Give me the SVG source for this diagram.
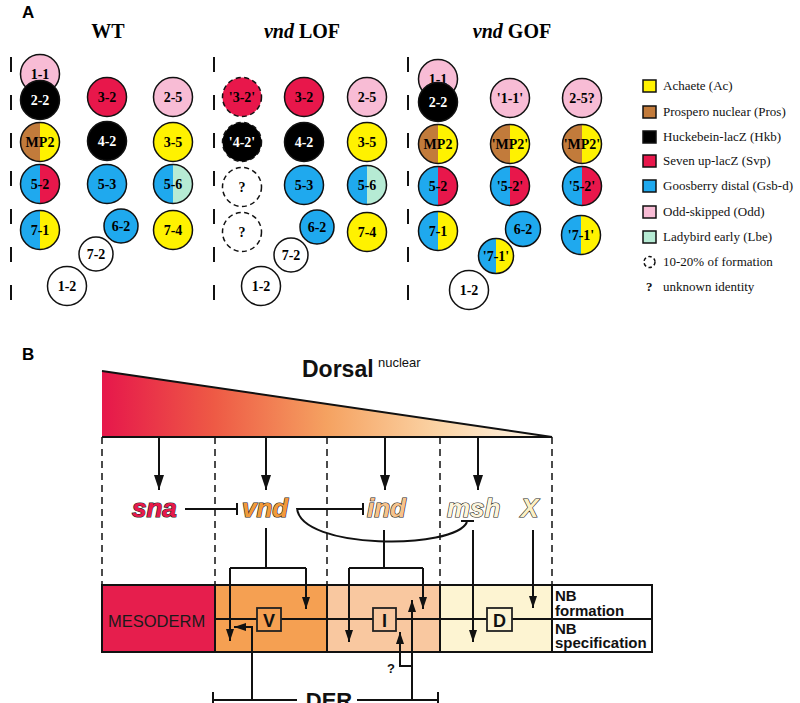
<svg xmlns="http://www.w3.org/2000/svg" width="800" height="703" viewBox="0 0 800 703">
<defs>
<linearGradient id="dors" x1="102" y1="0" x2="552" y2="0" gradientUnits="userSpaceOnUse">
<stop offset="0" stop-color="#e6174b"/>
<stop offset="0.25" stop-color="#ee5a45"/>
<stop offset="0.5" stop-color="#f5a261"/>
<stop offset="0.75" stop-color="#fbd4a6"/>
<stop offset="1" stop-color="#fff9ee"/>
</linearGradient>
<marker id="ah" markerUnits="userSpaceOnUse" markerWidth="15" markerHeight="10" refX="15" refY="5" orient="auto"><path d="M0,0 L15,5 L0,10 Z" fill="#111"/></marker>
<marker id="as" markerUnits="userSpaceOnUse" markerWidth="12" markerHeight="8" refX="12" refY="4" orient="auto"><path d="M0,0 L12,4 L0,8 Z" fill="#111"/></marker>
<style>
.nl{font-family:"Liberation Serif","Times New Roman",serif;font-weight:bold;font-size:14px;text-anchor:middle;fill:#000}
.wt{fill:#fff}
.o{stroke:#111;stroke-width:1.5}
.ol{fill:none;stroke:#111;stroke-width:1.5}
.d{stroke-dasharray:5 3.5}
.Y{fill:#fff200}.Br{fill:#c27b3b}.K{fill:#000}.R{fill:#e8174b}.Bl{fill:#1fa9ee}.P{fill:#f8bcd5}.G{fill:#b6ebd4}.W{fill:#fff}
.ttl{font-family:"Liberation Serif","Times New Roman",serif;font-weight:bold;font-size:20px;text-anchor:middle}
.lg{font-family:"Liberation Serif","Times New Roman",serif;font-size:13px;fill:#111}
.pl{font-family:"Liberation Sans",Arial,sans-serif;font-weight:bold;font-size:17px}
.vd{stroke:#111;stroke-width:2;stroke-dasharray:15 23;fill:none}
.ln{stroke:#111;stroke-width:2;fill:none}
.dl{stroke:#111;stroke-width:1.5;stroke-dasharray:7 5;fill:none}
.gene{font-family:"Liberation Sans",Arial,sans-serif;font-weight:bold;font-style:italic;font-size:26px;stroke:#1a1a1a;stroke-width:1.2;paint-order:stroke fill}
.sans{font-family:"Liberation Sans",Arial,sans-serif}
</style>
</defs>
<rect width="800" height="703" fill="#fff"/>

<!-- Panel A -->
<text class="pl" x="22" y="18">A</text>
<text class="ttl" x="108" y="38">WT</text>
<text class="ttl" x="302" y="38"><tspan font-style="italic">vnd</tspan> LOF</text>
<text class="ttl" x="512" y="38"><tspan font-style="italic">vnd</tspan> GOF</text>
<path class="vd" d="M11,57 V305 M214,57 V305 M408,57 V305"/>

<!-- WT -->
<g id="wt-1-1"><circle cx="40" cy="74" r="19.5" class="o P"/><text class="nl" x="40" y="79">1-1</text></g>
<g id="wt-2-2"><circle cx="40" cy="100" r="19.5" class="o K"/><text class="nl wt" x="40" y="105">2-2</text></g>
<g id="wt-3-2"><circle cx="107" cy="97" r="19.5" class="o R"/><text class="nl" x="107" y="102">3-2</text></g>
<g id="wt-2-5"><circle cx="173" cy="97" r="19.5" class="o P"/><text class="nl" x="173" y="102">2-5</text></g>
<g id="wt-mp2"><path d="M40,122.5 A19.5,19.5 0 0 0 40,161.5 Z" class="Br"/><path d="M40,122.5 A19.5,19.5 0 0 1 40,161.5 Z" class="Y"/><circle cx="40" cy="142" r="19.5" class="ol"/><text class="nl" x="40" y="147">MP2</text></g>
<g id="wt-4-2"><circle cx="107" cy="141" r="19.5" class="o K"/><text class="nl wt" x="107" y="146">4-2</text></g>
<g id="wt-3-5"><circle cx="173" cy="142" r="19.5" class="o Y"/><text class="nl" x="173" y="147">3-5</text></g>
<g id="wt-5-2"><path d="M40,164.5 A19.5,19.5 0 0 0 40,203.5 Z" class="Bl"/><path d="M40,164.5 A19.5,19.5 0 0 1 40,203.5 Z" class="R"/><circle cx="40" cy="184" r="19.5" class="ol"/><text class="nl" x="40" y="189">5-2</text></g>
<g id="wt-5-3"><circle cx="107" cy="184" r="19.5" class="o Bl"/><text class="nl" x="107" y="189">5-3</text></g>
<g id="wt-5-6"><path d="M173,164.5 A19.5,19.5 0 0 0 173,203.5 Z" class="Bl"/><path d="M173,164.5 A19.5,19.5 0 0 1 173,203.5 Z" class="G"/><circle cx="173" cy="184" r="19.5" class="ol"/><text class="nl" x="173" y="189">5-6</text></g>
<g id="wt-7-1"><path d="M40,210.5 A19.5,19.5 0 0 0 40,249.5 Z" class="Bl"/><path d="M40,210.5 A19.5,19.5 0 0 1 40,249.5 Z" class="Y"/><circle cx="40" cy="230" r="19.5" class="ol"/><text class="nl" x="40" y="235">7-1</text></g>
<g id="wt-6-2"><circle cx="121" cy="226" r="17" class="o Bl"/><text class="nl" x="121" y="231">6-2</text></g>
<g id="wt-7-4"><circle cx="173" cy="230" r="19.5" class="o Y"/><text class="nl" x="173" y="235">7-4</text></g>
<g id="wt-7-2"><circle cx="96" cy="254" r="17" class="o W"/><text class="nl" x="96" y="259">7-2</text></g>
<g id="wt-1-2"><circle cx="67" cy="286" r="19.5" class="o W"/><text class="nl" x="67" y="291">1-2</text></g>

<!-- LOF -->
<g id="lof-3-2q"><circle cx="242" cy="97" r="19.5" class="o R d"/><text class="nl" x="242" y="102">'3-2'</text></g>
<g id="lof-3-2"><circle cx="304" cy="97" r="19.5" class="o R"/><text class="nl" x="304" y="102">3-2</text></g>
<g id="lof-2-5"><circle cx="367" cy="97" r="19.5" class="o P"/><text class="nl" x="367" y="102">2-5</text></g>
<g id="lof-4-2q"><circle cx="242" cy="142" r="19.5" class="o K d"/><text class="nl wt" x="242" y="147">'4-2'</text></g>
<g id="lof-4-2"><circle cx="304" cy="142" r="19.5" class="o K"/><text class="nl wt" x="304" y="147">4-2</text></g>
<g id="lof-3-5"><circle cx="367" cy="142" r="19.5" class="o Y"/><text class="nl" x="367" y="147">3-5</text></g>
<g id="lof-q1"><circle cx="242" cy="187" r="19.5" class="o W d"/><text class="nl" x="242" y="192">?</text></g>
<g id="lof-5-3"><circle cx="304" cy="185" r="19.5" class="o Bl"/><text class="nl" x="304" y="190">5-3</text></g>
<g id="lof-5-6"><path d="M367,165.5 A19.5,19.5 0 0 0 367,204.5 Z" class="Bl"/><path d="M367,165.5 A19.5,19.5 0 0 1 367,204.5 Z" class="G"/><circle cx="367" cy="185" r="19.5" class="ol"/><text class="nl" x="367" y="190">5-6</text></g>
<g id="lof-q2"><circle cx="242" cy="232" r="19.5" class="o W d"/><text class="nl" x="242" y="237">?</text></g>
<g id="lof-6-2"><circle cx="317" cy="227" r="17" class="o Bl"/><text class="nl" x="317" y="232">6-2</text></g>
<g id="lof-7-4"><circle cx="367" cy="232" r="19.5" class="o Y"/><text class="nl" x="367" y="237">7-4</text></g>
<g id="lof-7-2"><circle cx="291" cy="255" r="17" class="o W"/><text class="nl" x="291" y="260">7-2</text></g>
<g id="lof-1-2"><circle cx="261" cy="286" r="19.5" class="o W"/><text class="nl" x="261" y="291">1-2</text></g>

<!-- GOF -->
<g id="gof-1-1"><circle cx="438" cy="79" r="19.5" class="o P"/><text class="nl" x="438" y="84">1-1</text></g>
<g id="gof-2-2"><circle cx="438" cy="102" r="19.5" class="o K"/><text class="nl wt" x="438" y="107">2-2</text></g>
<g id="gof-1-1q"><circle cx="510" cy="98" r="19.5" class="o P"/><text class="nl" x="510" y="103">'1-1'</text></g>
<g id="gof-2-5"><circle cx="582" cy="98" r="19.5" class="o P"/><text class="nl" x="582" y="103">2-5?</text></g>
<g id="gof-mp2"><path d="M438,124.5 A19.5,19.5 0 0 0 438,163.5 Z" class="Br"/><path d="M438,124.5 A19.5,19.5 0 0 1 438,163.5 Z" class="Y"/><circle cx="438" cy="144" r="19.5" class="ol"/><text class="nl" x="438" y="149">MP2</text></g>
<g id="gof-mp2q1"><path d="M510,124.5 A19.5,19.5 0 0 0 510,163.5 Z" class="Br"/><path d="M510,124.5 A19.5,19.5 0 0 1 510,163.5 Z" class="Y"/><circle cx="510" cy="144" r="19.5" class="ol"/><text class="nl" x="510" y="149">'MP2'</text></g>
<g id="gof-mp2q2"><path d="M582,124.5 A19.5,19.5 0 0 0 582,163.5 Z" class="Br"/><path d="M582,124.5 A19.5,19.5 0 0 1 582,163.5 Z" class="Y"/><circle cx="582" cy="144" r="19.5" class="ol"/><text class="nl" x="582" y="149">'MP2'</text></g>
<g id="gof-5-2"><path d="M438,166.5 A19.5,19.5 0 0 0 438,205.5 Z" class="Bl"/><path d="M438,166.5 A19.5,19.5 0 0 1 438,205.5 Z" class="R"/><circle cx="438" cy="186" r="19.5" class="ol"/><text class="nl" x="438" y="191">5-2</text></g>
<g id="gof-5-2q1"><path d="M510,166.5 A19.5,19.5 0 0 0 510,205.5 Z" class="Bl"/><path d="M510,166.5 A19.5,19.5 0 0 1 510,205.5 Z" class="R"/><circle cx="510" cy="186" r="19.5" class="ol"/><text class="nl" x="510" y="191">'5-2'</text></g>
<g id="gof-5-2q2"><path d="M582,166.5 A19.5,19.5 0 0 0 582,205.5 Z" class="Bl"/><path d="M582,166.5 A19.5,19.5 0 0 1 582,205.5 Z" class="R"/><circle cx="582" cy="186" r="19.5" class="ol"/><text class="nl" x="582" y="191">'5-2'</text></g>
<g id="gof-7-1"><path d="M438,211.5 A19.5,19.5 0 0 0 438,250.5 Z" class="Bl"/><path d="M438,211.5 A19.5,19.5 0 0 1 438,250.5 Z" class="Y"/><circle cx="438" cy="231" r="19.5" class="ol"/><text class="nl" x="438" y="236">7-1</text></g>
<g id="gof-6-2"><circle cx="523" cy="229" r="17.5" class="o Bl"/><text class="nl" x="523" y="234">6-2</text></g>
<g id="gof-7-1q2"><path d="M581,215.5 A19.5,19.5 0 0 0 581,254.5 Z" class="Bl"/><path d="M581,215.5 A19.5,19.5 0 0 1 581,254.5 Z" class="Y"/><circle cx="581" cy="235" r="19.5" class="ol"/><text class="nl" x="581" y="240">'7-1'</text></g>
<g id="gof-7-1q1"><path d="M496,238.5 A17.5,17.5 0 0 0 496,273.5 Z" class="Bl"/><path d="M496,238.5 A17.5,17.5 0 0 1 496,273.5 Z" class="Y"/><circle cx="496" cy="256" r="17.5" class="ol"/><text class="nl" x="496" y="261">'7-1'</text></g>
<g id="gof-1-2"><circle cx="469" cy="290" r="19.5" class="o W"/><text class="nl" x="469" y="295">1-2</text></g>

<!-- Legend -->
<g id="legend">
<rect x="643" y="80" width="13" height="12" class="o Y"/><text class="lg" x="663" y="90">Achaete (Ac)</text>
<rect x="643" y="106" width="13" height="12" class="o Br"/><text class="lg" x="663" y="116">Prospero nuclear (Pros)</text>
<rect x="643" y="131" width="13" height="12" class="o K"/><text class="lg" x="663" y="141">Huckebein-lacZ (Hkb)</text>
<rect x="643" y="155" width="13" height="12" class="o R"/><text class="lg" x="663" y="165">Seven up-lacZ (Svp)</text>
<rect x="643" y="180" width="13" height="12" class="o Bl"/><text class="lg" x="663" y="190">Goosberry distal (Gsb-d)</text>
<rect x="643" y="206" width="13" height="12" class="o P"/><text class="lg" x="663" y="216">Odd-skipped (Odd)</text>
<rect x="643" y="231" width="13" height="12" class="o G"/><text class="lg" x="663" y="241">Ladybird early (Lbe)</text>
<circle cx="649.5" cy="262" r="5.5" fill="none" stroke="#111" stroke-width="1.5" stroke-dasharray="3.5 2.5"/><text class="lg" x="663" y="266">10-20% of formation</text>
<text class="lg" x="646" y="291" font-weight="bold">?</text><text class="lg" x="663" y="291">unknown identity</text>
</g>

<!-- Panel B -->
<text class="pl" x="22" y="360">B</text>
<g id="dorsal-gradient">
<polygon points="102,371 552,437 102,437" fill="url(#dors)"/>
<path d="M102,371 L552,437 L102,437" fill="none" stroke="#111" stroke-width="2"/>
<text class="sans" x="302" y="377" font-size="23" font-weight="bold" fill="#111">Dorsal</text>
<text class="sans" x="378" y="367" font-size="13" fill="#111">nuclear</text>
</g>
<path class="dl" d="M102,437 V585 M215,437 V585 M327,437 V585 M440,437 V585 M552,437 V585"/>

<g id="sna"><text class="gene" x="132" y="517" fill="#e8194b">sna</text></g>
<g id="vnd"><text class="gene" x="242" y="517" fill="#f29a3a">vnd</text></g>
<g id="ind"><text class="gene" x="367" y="517" fill="#f7c38c">ind</text></g>
<g id="msh"><text class="gene" x="447" y="517" fill="#fdf5dc">msh</text></g>
<g id="X"><text class="gene" x="521" y="517" fill="#fcf0c4">X</text></g>

<g id="zones">
<rect x="102" y="585" width="113" height="67" fill="#e61e4d"/>
<rect x="215" y="585" width="112" height="67" fill="#f5a052"/>
<rect x="327" y="585" width="113" height="67" fill="#f9c8a0"/>
<rect x="440" y="585" width="112" height="67" fill="#fdf4d2"/>
<rect x="552" y="585" width="100" height="67" fill="#fff"/>
<path class="ln" d="M215,619 H652 M215,585 V652 M327,585 V652 M440,585 V652 M552,585 V652"/>
<rect x="102" y="585" width="550" height="67" class="ln"/>
<text class="sans" x="108" y="627" font-size="16.5" fill="#1a1a1a">MESODERM</text>
<text class="sans" x="555" y="601" font-size="15" font-weight="bold" fill="#111">NB</text>
<text class="sans" x="555" y="616" font-size="15" font-weight="bold" fill="#111">formation</text>
<text class="sans" x="555" y="634" font-size="15" font-weight="bold" fill="#111">NB</text>
<text class="sans" x="555" y="648" font-size="15" font-weight="bold" fill="#111">specification</text>
</g>
<g id="V"><rect x="257" y="608" width="24" height="23" fill="#f5a052" stroke="#222" stroke-width="1.8"/><text class="sans" x="269" y="626.5" font-size="18" font-weight="bold" text-anchor="middle" fill="#111">V</text></g>
<g id="I"><rect x="373" y="608" width="23" height="23" fill="#f9c8a0" stroke="#222" stroke-width="1.8"/><text class="sans" x="384.5" y="626.5" font-size="18" font-weight="bold" text-anchor="middle" fill="#111">I</text></g>
<g id="D"><rect x="487" y="608" width="25" height="23" fill="#fdf4d2" stroke="#222" stroke-width="1.8"/><text class="sans" x="499.5" y="626.5" font-size="18" font-weight="bold" text-anchor="middle" fill="#111">D</text></g>

<g id="connectors">
<path class="ln" d="M159,437 V490" marker-end="url(#ah)"/>
<path class="ln" d="M266,437 V490" marker-end="url(#ah)"/>
<path class="ln" d="M385,437 V490" marker-end="url(#ah)"/>
<path class="ln" d="M478,437 V490" marker-end="url(#ah)"/>
<path class="ln" d="M185,509 H237 M237,503 V515"/>
<path class="ln" d="M297,509 H363 M363,503 V515"/>
<path class="ln" d="M297,508 C300,550 455,550 467,522 M461,521 H474"/>
<path class="ln" d="M266,528 V568 M230,568 H306"/>
<path class="ln" d="M230,568 V641" marker-end="url(#as)"/>
<path class="ln" d="M306,568 V609" marker-end="url(#as)"/>
<path class="ln" d="M384,530 V568 M349,568 H423"/>
<path class="ln" d="M349,568 V642" marker-end="url(#as)"/>
<path class="ln" d="M423,568 V609" marker-end="url(#as)"/>
<path class="ln" d="M473,530 V642" marker-end="url(#as)"/>
<path class="ln" d="M533,530 V608" marker-end="url(#as)"/>
<path class="ln" d="M252,700 V627 H234" marker-end="url(#as)"/>
<path class="ln" d="M412,700 V600" marker-end="url(#as)"/>
<path class="ln" d="M412,666 H400 V632" marker-end="url(#as)"/>
</g>
<g id="DER">
<path class="ln" d="M213,700 H297 M357,700 H438 M213,692 V703 M438,692 V703"/>
<text class="sans" x="329" y="708" font-size="22" font-weight="bold" text-anchor="middle" fill="#111">DER</text>
</g>
<text class="sans" x="391" y="673" font-size="13" font-weight="bold" text-anchor="middle" fill="#111">?</text>
</svg>
